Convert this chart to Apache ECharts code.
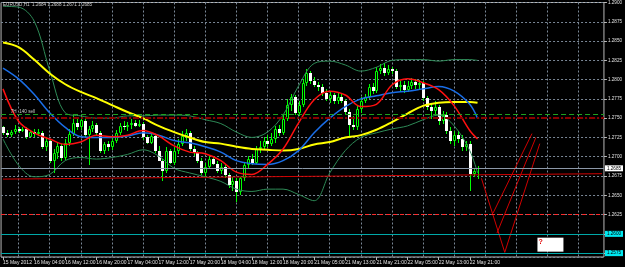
<!DOCTYPE html>
<html>
<head>
<meta charset="utf-8">
<title>EURUSD,H1</title>
<script src="https://cdn.jsdelivr.net/npm/echarts@6/dist/echarts.min.js"></script>
<style>
html, body { margin: 0; padding: 0; background: #000; }
#chart { width: 625px; height: 267px; }
</style>
</head>
<body>
<div id="chart"></div>
<script>
// time axis labels, one every 8 H1 bars
var timeLabels = ['15 May 2012', '16 May 04:00', '16 May 12:00', '16 May 20:00', '17 May 04:00',
  '17 May 12:00', '17 May 20:00', '18 May 04:00', '18 May 12:00', '18 May 20:00', '21 May 05:00',
  '21 May 13:00', '21 May 21:00', '22 May 05:00', '22 May 13:00', '22 May 21:00'];
var futureBars = 32;

// OHLC of the H1 bars
var opens = [1.2738, 1.2731, 1.2728, 1.2732, 1.2736, 1.2734, 1.2736, 1.2726, 1.2732, 1.2730,
  1.2731, 1.2713, 1.2721, 1.2695, 1.2705, 1.2714, 1.2699, 1.2718, 1.2730, 1.2744,
  1.2738, 1.2746, 1.2728, 1.2736, 1.2741, 1.2731, 1.2708, 1.2717, 1.2712, 1.2721,
  1.2731, 1.2740, 1.2738, 1.2741, 1.2744, 1.2740, 1.2743, 1.2725, 1.2718, 1.2727,
  1.2708, 1.2695, 1.2682, 1.2708, 1.2692, 1.2708, 1.2717, 1.2727, 1.2731, 1.2710,
  1.2705, 1.2695, 1.2679, 1.2687, 1.2697, 1.2691, 1.2682, 1.2687, 1.2676, 1.2663,
  1.2669, 1.2654, 1.2672, 1.2689, 1.2697, 1.2692, 1.2710, 1.2713, 1.2721, 1.2717,
  1.2723, 1.2736, 1.2731, 1.2749, 1.2767, 1.2778, 1.2757, 1.2767, 1.2796, 1.2808,
  1.2798, 1.2793, 1.2791, 1.2783, 1.2775, 1.2780, 1.2772, 1.2778, 1.2772, 1.2758,
  1.2741, 1.2738, 1.2762, 1.2772, 1.2778, 1.2791, 1.2785, 1.2811, 1.2815, 1.2808,
  1.2814, 1.2811, 1.2791, 1.2793, 1.2787, 1.2792, 1.2797, 1.2793, 1.2796, 1.2776,
  1.2765, 1.2759, 1.2765, 1.2746, 1.2754, 1.2734, 1.2721, 1.2728, 1.2723, 1.2713,
  1.2717, 1.2678, 1.2684];
var closes = [1.2731, 1.2728, 1.2732, 1.2736, 1.2734, 1.2736, 1.2726, 1.2732, 1.2730, 1.2732,
  1.2713, 1.2721, 1.2695, 1.2705, 1.2714, 1.2699, 1.2718, 1.2730, 1.2744, 1.2738,
  1.2748, 1.2728, 1.2736, 1.2741, 1.2731, 1.2708, 1.2717, 1.2712, 1.2721, 1.2731,
  1.2740, 1.2738, 1.2741, 1.2744, 1.2740, 1.2743, 1.2725, 1.2718, 1.2727, 1.2708,
  1.2695, 1.2682, 1.2708, 1.2692, 1.2708, 1.2717, 1.2727, 1.2731, 1.2710, 1.2705,
  1.2695, 1.2679, 1.2687, 1.2697, 1.2691, 1.2682, 1.2687, 1.2676, 1.2663, 1.2669,
  1.2654, 1.2672, 1.2689, 1.2697, 1.2692, 1.2710, 1.2713, 1.2721, 1.2717, 1.2723,
  1.2736, 1.2731, 1.2749, 1.2767, 1.2778, 1.2757, 1.2767, 1.2796, 1.2808, 1.2798,
  1.2793, 1.2791, 1.2783, 1.2775, 1.2780, 1.2772, 1.2778, 1.2772, 1.2758, 1.2741,
  1.2738, 1.2762, 1.2772, 1.2778, 1.2791, 1.2785, 1.2811, 1.2815, 1.2808, 1.2814,
  1.2811, 1.2791, 1.2793, 1.2787, 1.2792, 1.2797, 1.2793, 1.2796, 1.2776, 1.2765,
  1.2759, 1.2765, 1.2746, 1.2754, 1.2734, 1.2721, 1.2728, 1.2723, 1.2713, 1.2717,
  1.2678, 1.2682, 1.2685];
var highs = [1.2740, 1.2735, 1.2735, 1.2741, 1.2739, 1.2739, 1.2738, 1.2735, 1.2736, 1.2736,
  1.2734, 1.2725, 1.2723, 1.2710, 1.2718, 1.2716, 1.2723, 1.2736, 1.2756, 1.2749,
  1.2753, 1.2750, 1.2740, 1.2746, 1.2744, 1.2734, 1.2719, 1.2721, 1.2725, 1.2735,
  1.2744, 1.2746, 1.2745, 1.2749, 1.2748, 1.2748, 1.2745, 1.2728, 1.2731, 1.2728,
  1.2714, 1.2697, 1.2713, 1.2710, 1.2713, 1.2723, 1.2734, 1.2736, 1.2734, 1.2714,
  1.2708, 1.2699, 1.2692, 1.2701, 1.2701, 1.2695, 1.2692, 1.2690, 1.2679, 1.2674,
  1.2672, 1.2674, 1.2692, 1.2701, 1.2704, 1.2714, 1.2721, 1.2726, 1.2728, 1.2731,
  1.2740, 1.2741, 1.2754, 1.2775, 1.2781, 1.2780, 1.2772, 1.2801, 1.2814, 1.2811,
  1.2803, 1.2797, 1.2794, 1.2788, 1.2785, 1.2783, 1.2783, 1.2781, 1.2775, 1.2762,
  1.2753, 1.2766, 1.2778, 1.2781, 1.2794, 1.2796, 1.2816, 1.2820, 1.2821, 1.2819,
  1.2817, 1.2814, 1.2798, 1.2798, 1.2798, 1.2802, 1.2801, 1.2800, 1.2798, 1.2779,
  1.2770, 1.2772, 1.2767, 1.2759, 1.2758, 1.2739, 1.2734, 1.2734, 1.2728, 1.2721,
  1.2721, 1.2686, 1.2688];
var lows = [1.2728, 1.2726, 1.2725, 1.2730, 1.2731, 1.2732, 1.2723, 1.2725, 1.2726, 1.2727,
  1.2710, 1.2708, 1.2692, 1.2679, 1.2697, 1.2695, 1.2696, 1.2714, 1.2727, 1.2735,
  1.2735, 1.2726, 1.2689, 1.2732, 1.2728, 1.2705, 1.2704, 1.2708, 1.2709, 1.2718,
  1.2728, 1.2735, 1.2734, 1.2736, 1.2738, 1.2738, 1.2722, 1.2716, 1.2716, 1.2705,
  1.2694, 1.2669, 1.2679, 1.2690, 1.2689, 1.2704, 1.2714, 1.2721, 1.2708, 1.2701,
  1.2692, 1.2676, 1.2674, 1.2685, 1.2689, 1.2679, 1.2677, 1.2673, 1.2659, 1.2656,
  1.2641, 1.2650, 1.2669, 1.2685, 1.2689, 1.2690, 1.2705, 1.2710, 1.2713, 1.2714,
  1.2718, 1.2727, 1.2728, 1.2746, 1.2759, 1.2754, 1.2753, 1.2765, 1.2792, 1.2794,
  1.2791, 1.2785, 1.2779, 1.2772, 1.2770, 1.2768, 1.2768, 1.2770, 1.2756, 1.2727,
  1.2735, 1.2735, 1.2757, 1.2770, 1.2775, 1.2781, 1.2783, 1.2807, 1.2805, 1.2806,
  1.2807, 1.2788, 1.2785, 1.2783, 1.2784, 1.2788, 1.2788, 1.2787, 1.2772, 1.2761,
  1.2749, 1.2753, 1.2741, 1.2743, 1.2730, 1.2717, 1.2714, 1.2718, 1.2708, 1.2708,
  1.2656, 1.2674, 1.2671];

// indicator lines
var lineIdx = [0, 4, 8, 12, 16, 20, 24, 28, 32, 36, 40, 44, 48, 52, 56, 60, 64, 68, 72, 76,
  80, 84, 88, 92, 96, 100, 104, 108, 112, 116, 120, 122];
var maFast = [1.2788, 1.2746, 1.2731, 1.2723, 1.2716, 1.2719, 1.2728, 1.2726, 1.2728, 1.2734,
  1.2727, 1.2714, 1.2706, 1.2704, 1.2695, 1.2680, 1.2677, 1.2690, 1.2710, 1.2744,
  1.2774, 1.2785, 1.2780, 1.2765, 1.2768, 1.2793, 1.2801, 1.2796, 1.2787, 1.2766,
  1.2734, 1.2723];
var bbMid = [1.2815, 1.2801, 1.2781, 1.2757, 1.2738, 1.2726, 1.2725, 1.2725, 1.2727, 1.2731,
  1.2728, 1.2721, 1.2718, 1.2713, 1.2706, 1.2695, 1.2691, 1.2690, 1.2695, 1.2708,
  1.2731, 1.2750, 1.2765, 1.2775, 1.2779, 1.2783, 1.2785, 1.2788, 1.2791, 1.2785,
  1.2768, 1.2750];
var maSlow = [1.2848, 1.2842, 1.2826, 1.2808, 1.2794, 1.2784, 1.2776, 1.2767, 1.2758, 1.2750,
  1.2740, 1.2732, 1.2725, 1.2719, 1.2717, 1.2713, 1.2710, 1.2709, 1.2708, 1.2710,
  1.2716, 1.2719, 1.2725, 1.2728, 1.2735, 1.2745, 1.2756, 1.2766, 1.2770, 1.2771,
  1.2771, 1.2770];
var bbUpper = [1.2895, 1.2894, 1.2876, 1.2812, 1.2757, 1.2753, 1.2750, 1.2750, 1.2753, 1.2753,
  1.2754, 1.2754, 1.2753, 1.2748, 1.2743, 1.2732, 1.2725, 1.2732, 1.2754, 1.2792,
  1.2821, 1.2824, 1.2819, 1.2811, 1.2816, 1.2825, 1.2826, 1.2826, 1.2824, 1.2826,
  1.2826, 1.2825];
var bbLower = [1.2723, 1.2689, 1.2674, 1.2677, 1.2695, 1.2699, 1.2697, 1.2699, 1.2703, 1.2709,
  1.2701, 1.2685, 1.2679, 1.2674, 1.2668, 1.2658, 1.2655, 1.2658, 1.2658, 1.2651,
  1.2643, 1.2679, 1.2708, 1.2725, 1.2731, 1.2736, 1.2740, 1.2748, 1.2754, 1.2740,
  1.2708, 1.2679];

// horizontal levels
var levelGreen = 1.2755;
var levelDarkRed = 1.2750;
var bidPrice = 1.2685;
var levelRed = 1.2625;
var levelCyan = [1.2600, 1.2575];

// drawn trendlines as [bar index, price]
var baseLine = [[0, 1.2671], [154, 1.2678]];
var downLine = [[123, 1.2672], [129, 1.2576]];
var upLines = [
  [[126, 1.2627], [136, 1.2730]],
  [[127, 1.2601], [137, 1.2725]],
  [[129, 1.2576], [138, 1.2717]]
];

var titleText = 'EURUSD,H1  1.2684 1.2688 1.2671 1.2685';
var noteText = '7H  140 sell';

var font = 'Liberation Sans';
var gridColor = '#7a8796';

var nBars = opens.length;
var categories = [];
for (var i = 0; i < nBars + futureBars; i++) {
  categories.push(String(i));
}

// [bar, open, close, low, high]
var candles = opens.map(function (o, k) {
  return [k, o, closes[k], lows[k], highs[k]];
});

function pts(arr) {
  return lineIdx.map(function (b, k) { return [b, arr[k]]; });
}

function indicator(arr, color, width) {
  return {
    type: 'line', data: pts(arr), smooth: 0.35, symbol: 'none', silent: true,
    lineStyle: { color: color, width: width }
  };
}

function trend(points) {
  return {
    type: 'line', data: points, symbol: 'none', silent: true,
    lineStyle: { color: '#d00000', width: 1 }
  };
}

function level(value, color, type, width, label) {
  var item = {
    yAxis: value,
    lineStyle: { color: color, type: type, width: width },
    label: { show: false }
  };
  if (label) {
    item.label = {
      show: true, position: 'end', distance: 1, formatter: value.toFixed(4),
      color: '#000', backgroundColor: label, fontSize: 4.6, fontFamily: font,
      padding: [1, 2, 0, 2]
    };
  }
  return item;
}

// MT4 style bars: lime wick, black body (up) with lime edge, white body (down)
function renderCandle(params, api) {
  var bar = api.value(0);
  var o = api.coord([bar, api.value(1)]);
  var c = api.coord([bar, api.value(2)]);
  var l = api.coord([bar, api.value(3)]);
  var h = api.coord([bar, api.value(4)]);
  var cx = Math.round(o[0]);
  var top = Math.round(Math.min(o[1], c[1]));
  var bot = Math.round(Math.max(o[1], c[1]));
  if (bot - top < 1) bot = top + 1;
  var up = api.value(2) >= api.value(1);
  var body = up
    ? { type: 'rect', shape: { x: cx - 0.5, y: top + 0.5, width: 2, height: Math.max(bot - top - 1, 0) },
        style: { fill: '#000', stroke: '#00ff00', lineWidth: 1 } }
    : { type: 'rect', shape: { x: cx - 1, y: top, width: 3, height: bot - top },
        style: { fill: '#ffffff' } };
  return {
    type: 'group',
    children: [
      { type: 'line', shape: { x1: cx + 0.5, y1: Math.round(h[1]), x2: cx + 0.5, y2: Math.round(l[1]) },
        style: { stroke: '#00ff00', lineWidth: 1 } },
      body
    ]
  };
}

var series = [
  {
    type: 'custom',
    data: candles,
    renderItem: renderCandle,
    encode: { x: 0, y: [1, 2, 3, 4] },
    silent: true,
    markLine: {
      symbol: 'none', silent: true, animation: false, precision: 4,
      data: [
        level(levelGreen, '#1fa01f', [5, 3], 1),
        level(levelDarkRed, '#8b0000', [6, 2, 2, 2], 2),
        level(bidPrice, '#8c98a8', 'solid', 1, '#ffffff'),
        level(levelRed, '#ff2a2a', [4, 3], 1),
        level(levelCyan[0], '#00a8a8', 'solid', 1, '#00e8f0'),
        level(levelCyan[1], '#00a8a8', 'solid', 1, '#00e8f0')
      ]
    },
    markPoint: {
      silent: true, animation: false,
      data: [
        {
          coord: [141, 1.2586], symbol: 'rect', symbolSize: [26, 14], symbolOffset: [-1, 0],
          itemStyle: { color: '#ffffff' },
          label: {
            show: true, formatter: '?', position: 'insideTopLeft', distance: 1,
            color: '#e00000', fontSize: 7, fontWeight: 'bold', fontFamily: font
          }
        },
        {
          coord: [2, 1.2759], symbol: 'rect', symbolSize: 1,
          itemStyle: { color: 'transparent' },
          label: {
            show: true, formatter: noteText, position: 'inside', align: 'left',
            color: '#c8c8c8', fontSize: 4.6, fontFamily: font
          }
        }
      ]
    }
  },
  indicator(bbUpper, '#2e8b57', 1),
  indicator(bbLower, '#2e8b57', 1),
  indicator(maSlow, '#ffff00', 2),
  indicator(bbMid, '#1a6ee8', 1.5),
  indicator(maFast, '#ff1010', 1.5),
  trend(baseLine),
  trend(downLine)
];
upLines.forEach(function (l) { series.push(trend(l)); });

var chart = echarts.init(document.getElementById('chart'));
chart.setOption({
  backgroundColor: '#000',
  animation: false,
  title: {
    text: titleText, left: 3, top: 2, padding: 0,
    textStyle: { color: '#d0d0d0', fontSize: 4.6, fontWeight: 'normal', fontFamily: font }
  },
  grid: { left: 1, right: 21, top: 1, bottom: 10, show: true, borderColor: '#b8b8b8', borderWidth: 1 },
  xAxis: {
    type: 'category',
    data: categories,
    boundaryGap: true,
    axisLine: { show: false },
    axisTick: {
      show: true, alignWithLabel: true, length: 3,
      interval: function (i) { return i % 8 === 0 && i / 8 < timeLabels.length; },
      lineStyle: { color: '#b8b8b8' }
    },
    axisLabel: {
      color: '#e0e0e0', fontSize: 5, fontFamily: font, align: 'left', margin: 3,
      interval: function (i) { return i % 8 === 0 && i / 8 < timeLabels.length; },
      formatter: function (v, i) { return timeLabels[i / 8] || ''; }
    },
    splitLine: {
      show: true, alignWithLabel: true,
      interval: function (i) { return i % 8 === 4; },
      lineStyle: { color: gridColor, type: [2, 2], width: 1 }
    }
  },
  yAxis: {
    type: 'value',
    position: 'right',
    min: 1.2570,
    max: 1.2900,
    minInterval: 0.0025,
    maxInterval: 0.0025,
    scale: true,
    axisLine: { show: false },
    axisTick: { show: true, length: 3, lineStyle: { color: '#b8b8b8' } },
    axisLabel: {
      color: '#e0e0e0', fontSize: 4.6, fontFamily: font, margin: 4, showMinLabel: false,
      formatter: function (v) { return v.toFixed(4); }
    },
    splitLine: { show: true, lineStyle: { color: gridColor, type: [2, 2], width: 1 } }
  },
  series: series
});
</script>
</body>
</html>
